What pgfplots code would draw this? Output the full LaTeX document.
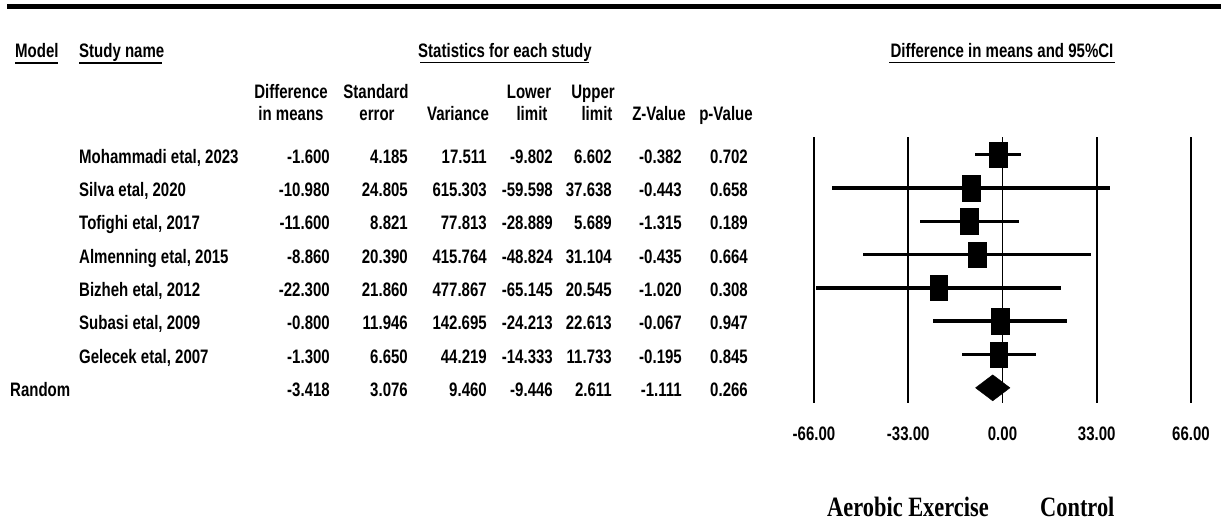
\documentclass[border=0pt]{standalone}
\usepackage{pgfplots}
\usepackage{pgfplotstable}
\pgfplotsset{compat=1.18}
\usepackage{fontspec}
\setmainfont{Liberation Sans}[FakeStretch=0.77]
\newfontfamily\tnr{Liberation Serif}[FakeStretch=0.8]
\newcommand\rf{\fontsize{19.5}{22}\selectfont\bfseries}

\pgfplotstableread{
y m lo hi
0 -1.600 -9.802 6.602
1 -10.980 -59.598 37.638
2 -11.600 -28.889 5.689
3 -8.860 -48.824 31.104
4 -22.300 -65.145 20.545
5 -0.800 -24.213 22.613
6 -1.300 -14.333 11.733
}\studies

\newcommand\vals[8]{%
  \node[anchor=base east] at (330,{163.2+33.3*#1}) {#2};
  \node[anchor=base east] at (408,{163.2+33.3*#1}) {#3};
  \node[anchor=base east] at (487,{163.2+33.3*#1}) {#4};
  \node[anchor=base east] at (553,{163.2+33.3*#1}) {#5};
  \node[anchor=base east] at (612,{163.2+33.3*#1}) {#6};
  \node[anchor=base east] at (682,{163.2+33.3*#1}) {#7};
  \node[anchor=base east] at (748,{163.2+33.3*#1}) {#8};
}
\newcommand\study[2]{\node[anchor=base west] at (79,{163.2+33.3*#1}) {#2};}

\begin{document}
\begin{tikzpicture}[x=1pt,y=-1pt, every node/.style={inner sep=0pt, font=\rf}]
\path[use as bounding box] (0,0) rectangle (1221,523);
\draw[line width=4.5pt] (7,6.5) -- (1221,6.5);

% headers
\node[anchor=base west] at (15,57) {Model};
\draw[line width=1.3pt] (15,63) -- (58,63);
\node[anchor=base west] at (79,57) {Study name};
\draw[line width=1.3pt] (79,63) -- (162,63);
\node[anchor=base] at (505,57) {Statistics for each study};
\draw[line width=1.3pt] (420,62.5) -- (589,62.5);
\node[anchor=base] at (1002,57) {Difference in means and 95\%CI};
\draw[line width=1.3pt] (889,62.5) -- (1115,62.5);

\node[anchor=base] at (291,98) {Difference};
\node[anchor=base] at (291,120) {in means};
\node[anchor=base] at (376,98) {Standard};
\node[anchor=base] at (377,120) {error};
\node[anchor=base] at (458,120) {Variance};
\node[anchor=base] at (529,98) {Lower};
\node[anchor=base] at (532,120) {limit};
\node[anchor=base] at (593,98) {Upper};
\node[anchor=base] at (597,120) {limit};
\node[anchor=base] at (659,120) {Z-Value};
\node[anchor=base] at (726,120) {p-Value};

% rows
\study{0}{Mohammadi etal, 2023}
\vals{0}{-1.600}{4.185}{17.511}{-9.802}{6.602}{-0.382}{0.702}
\study{1}{Silva etal, 2020}
\vals{1}{-10.980}{24.805}{615.303}{-59.598}{37.638}{-0.443}{0.658}
\study{2}{Tofighi etal, 2017}
\vals{2}{-11.600}{8.821}{77.813}{-28.889}{5.689}{-1.315}{0.189}
\study{3}{Almenning etal, 2015}
\vals{3}{-8.860}{20.390}{415.764}{-48.824}{31.104}{-0.435}{0.664}
\study{4}{Bizheh etal, 2012}
\vals{4}{-22.300}{21.860}{477.867}{-65.145}{20.545}{-1.020}{0.308}
\study{5}{Subasi etal, 2009}
\vals{5}{-0.800}{11.946}{142.695}{-24.213}{22.613}{-0.067}{0.947}
\study{6}{Gelecek etal, 2007}
\vals{6}{-1.300}{6.650}{44.219}{-14.333}{11.733}{-0.195}{0.845}
\node[anchor=base west] at (10,{163.2+33.3*7}) {Random};
\vals{7}{-3.418}{3.076}{9.460}{-9.446}{2.611}{-1.111}{0.266}

\begin{axis}[
  at={(814pt,-137pt)}, anchor=north west,
  width=377pt, height=266pt, scale only axis,
  xmin=-66, xmax=66, ymin=-0.5315, ymax=7.456, y dir=reverse,
  axis line style={draw=none}, ytick=\empty,
  xtick={-66,-33,0,33,66},
  xticklabels={-66.00,-33.00,0.00,33.00,66.00},
  major tick length=0pt,
  xticklabel style={anchor=base, yshift=-37pt, inner sep=0pt, font=\rf},
  clip=false,
]
\addplot[line width=1.4pt] coordinates {(-66,-0.5315) (-66,7.456)};
\addplot[line width=2pt] coordinates {(-33,-0.5315) (-33,7.456)};
\addplot[line width=1.5pt] coordinates {(0,-0.5315) (0,7.456)};
\addplot[line width=1.7pt] coordinates {(33,-0.5315) (33,7.456)};
\addplot[line width=1.4pt] coordinates {(66,-0.5315) (66,7.456)};
\addplot[draw=none, mark=none,
  error bars/.cd, x dir=both, x explicit, error mark=none,
  error bar style={line width=3.5pt, black}]
  table[x=m, y=y, x error plus expr=\thisrow{hi}-\thisrow{m},
        x error minus expr=\thisrow{m}-\thisrow{lo}] {\studies};
\addplot[only marks, mark=square*, mark size=8.8pt,
  mark options={yscale=1.45, fill=black, draw=black}]
  table[x=m, y=y] {\studies};
\addplot[fill=black, draw=black] coordinates
  {(-9.446,7) (-3.418,7.39) (2.611,7) (-3.418,6.61) (-9.446,7)};
\end{axis}

\node[anchor=base west, font=\tnr\fontsize{28}{30}\selectfont\bfseries] at (827,516) {Aerobic Exercise};
\node[anchor=base west, font=\tnr\fontsize{28}{30}\selectfont\bfseries] at (1040,516) {Control};
\end{tikzpicture}
\end{document}
